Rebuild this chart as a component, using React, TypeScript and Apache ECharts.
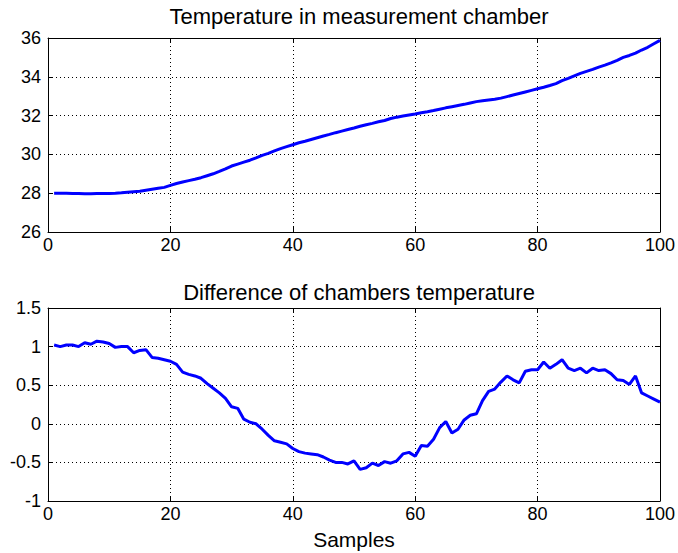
import React, { useEffect, useRef } from "react";
import * as echarts from "echarts";

const samples: number[] = Array.from({ length: 100 }, (_, i) => i + 1);

const chamberTemp: number[] = [
  28.0, 28.0, 28.0, 27.99, 27.98, 27.97, 27.97, 27.98, 27.98, 27.99,
  28.0, 28.02, 28.05, 28.08, 28.1, 28.15, 28.2, 28.25, 28.3, 28.4,
  28.5, 28.58, 28.65, 28.72, 28.8, 28.9, 29.0, 29.12, 29.25, 29.4,
  29.5, 29.6, 29.7, 29.82, 29.95, 30.05, 30.18, 30.3, 30.4, 30.5,
  30.6, 30.68, 30.77, 30.86, 30.95, 31.03, 31.12, 31.2, 31.28, 31.36,
  31.45, 31.53, 31.6, 31.68, 31.75, 31.85, 31.92, 31.98, 32.03, 32.08,
  32.15, 32.2, 32.26, 32.33, 32.4, 32.46, 32.52, 32.58, 32.65, 32.72,
  32.76, 32.8, 32.84, 32.9, 32.98, 33.06, 33.14, 33.22, 33.3, 33.38,
  33.46, 33.55, 33.65, 33.8, 33.92, 34.05, 34.18, 34.28, 34.38, 34.5,
  34.6, 34.72, 34.85, 35.0, 35.1, 35.22, 35.38, 35.52, 35.7, 35.88,
];

const tempDifference: number[] = [
  1.02, 1.0, 1.02, 1.02, 1.0, 1.05, 1.03, 1.07, 1.06, 1.04,
  0.99, 1.0, 1.0, 0.92, 0.95, 0.96, 0.86, 0.85, 0.83, 0.81,
  0.77, 0.67, 0.64, 0.62, 0.59, 0.52, 0.46, 0.4, 0.33, 0.22,
  0.2, 0.06, 0.02, 0.0, -0.07, -0.15, -0.22, -0.24, -0.26, -0.32,
  -0.36, -0.38, -0.39, -0.4, -0.43, -0.47, -0.5, -0.5, -0.52, -0.48,
  -0.59, -0.57, -0.51, -0.54, -0.49, -0.51, -0.48, -0.39, -0.37, -0.42,
  -0.28, -0.29, -0.2, -0.05, 0.03, -0.12, -0.07, 0.05, 0.11, 0.13,
  0.3, 0.42, 0.45, 0.54, 0.62, 0.57, 0.53, 0.68, 0.7, 0.7,
  0.8, 0.72, 0.77, 0.83, 0.72, 0.69, 0.72, 0.66, 0.72, 0.69,
  0.7, 0.65, 0.57, 0.56, 0.51, 0.62, 0.4, 0.36, 0.32, 0.28,
];

const titles: string[] = ["Temperature in measurement chamber", "Difference of chambers temperature"];
const xLabel = "Samples";

const FONT = "'Liberation Sans', Arial, Helvetica, sans-serif";

export default function App() {
  const ref = useRef<HTMLDivElement>(null);
  useEffect(() => {
    document.body.style.margin = "0";
    const chart = echarts.init(ref.current!, null, { renderer: "svg" });
    const tick = { show: true, inside: true, length: 5, lineStyle: { color: "#000", width: 1 } };
    const axLine = { show: true, onZero: false, lineStyle: { color: "#000", width: 1 } };
    const split = { show: true, lineStyle: { color: "#000", width: 1, type: [1, 3] as any } };
    const label = { color: "#000", fontSize: 18, fontFamily: FONT };

    const mkX = (g: number) => [
      {
        type: "value", gridIndex: g, min: 0, max: 100, interval: 20, position: "bottom",
        axisLine: axLine, axisTick: tick, splitLine: split,
        axisLabel: { ...label, margin: 4 },
        ...(g === 1 ? { name: xLabel, nameLocation: "middle", nameGap: 28,
          nameTextStyle: { color: "#000", fontSize: 21, fontFamily: FONT } } : {}),
      },
      {
        type: "value", gridIndex: g, min: 0, max: 100, interval: 20, position: "top",
        axisLine: axLine, axisTick: tick, splitLine: { show: false }, axisLabel: { show: false },
      },
    ];
    const mkY = (g: number, min: number, max: number, interval: number) => [
      {
        type: "value", gridIndex: g, min, max, interval, position: "left",
        axisLine: axLine, axisTick: tick, splitLine: split,
        axisLabel: { ...label, margin: 7 },
      },
      {
        type: "value", gridIndex: g, min, max, interval, position: "right",
        axisLine: axLine, axisTick: tick, splitLine: { show: false }, axisLabel: { show: false },
      },
    ];

    chart.setOption({
      animation: false,
      backgroundColor: "#fff",
      title: [
        { text: titles[0], left: 354, top: 0, textAlign: "center",
          textStyle: { color: "#000", fontSize: 22, fontWeight: "normal", fontFamily: FONT } },
        { text: titles[1], left: 354, top: 276, textAlign: "center",
          textStyle: { color: "#000", fontSize: 22, fontWeight: "normal", fontFamily: FONT } },
      ],
      grid: [
        { left: 48, top: 38, width: 613, height: 194 },
        { left: 48, top: 308, width: 613, height: 193 },
      ],
      xAxis: [...mkX(0), ...mkX(1)],
      yAxis: [...mkY(0, 26, 36, 2), ...mkY(1, -1, 1.5, 0.5)],
      series: [
        {
          type: "line", xAxisIndex: 0, yAxisIndex: 0, showSymbol: false,
          data: samples.map((s, i) => [s, chamberTemp[i]]),
          lineStyle: { color: "#0000ff", width: 3 },
        },
        {
          type: "line", xAxisIndex: 2, yAxisIndex: 2, showSymbol: false,
          data: samples.map((s, i) => [s, tempDifference[i]]),
          lineStyle: { color: "#0000ff", width: 3 },
        },
      ],
    });
    return () => chart.dispose();
  }, []);
  return <div ref={ref} style={{ width: 678, height: 553 }} />;
}
